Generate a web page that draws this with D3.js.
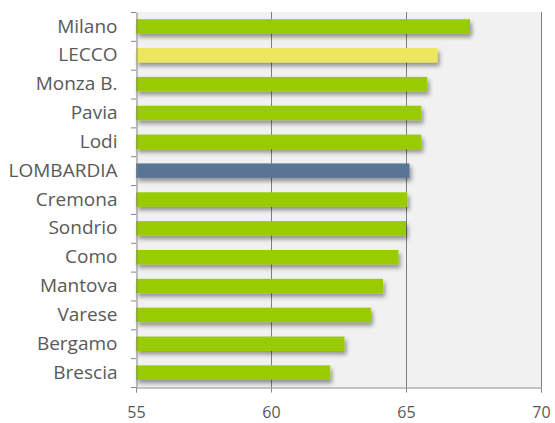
<!DOCTYPE html>
<html>
<head>
<meta charset="utf-8">
<script src="https://cdn.jsdelivr.net/npm/d3@7"></script>
<style>
  body { margin: 0; background: #fff; overflow: hidden; }
  svg { display: block; }
  text { font-family: "Open Sans", "Liberation Sans", sans-serif; fill: #595959; }
</style>
</head>
<body>
<div id="chart"></div>
<script>
const WIDTH = 555;
const HEIGHT = 423;

const provinces = ["Milano", "LECCO", "Monza B.", "Pavia", "Lodi", "LOMBARDIA", "Cremona",
  "Sondrio", "Como", "Mantova", "Varese", "Bergamo", "Brescia"];
const values = [67.37, 66.17, 65.79, 65.57, 65.57, 65.13, 65.05, 65.0, 64.72, 64.15, 63.7, 62.72, 62.19];
const ticks = [55, 60, 65, 70];

const margin = {top: 12, right: 14, bottom: 36, left: 136};

const barColor = name => name === "LECCO" ? "#eee65c" : name === "LOMBARDIA" ? "#587496" : "#99cc00";

const svg = d3.select("#chart")
  .append("svg")
  .attr("width", WIDTH)
  .attr("height", HEIGHT);

const x = d3.scaleLinear()
  .domain([55, 70])
  .range([margin.left, WIDTH - margin.right]);

const y = d3.scaleBand()
  .domain(provinces)
  .range([margin.top, HEIGHT - margin.bottom])
  .paddingInner(0.5)
  .paddingOuter(0.25);

// shadow under the bars
const filter = svg.append("defs").append("filter")
  .attr("id", "shadow")
  .attr("x", "-5%").attr("y", "-50%")
  .attr("width", "115%").attr("height", "250%");
filter.append("feDropShadow")
  .attr("dx", 2).attr("dy", 3.5)
  .attr("stdDeviation", 2.2)
  .attr("flood-color", "#000")
  .attr("flood-opacity", 0.4);

// plot background
svg.append("rect")
  .attr("x", x(55))
  .attr("y", margin.top)
  .attr("width", x(70) - x(55))
  .attr("height", HEIGHT - margin.bottom - margin.top)
  .attr("fill", "#f1f1f1");

// vertical gridlines
svg.append("g")
  .selectAll("line")
  .data(ticks.slice(1))
  .enter().append("line")
  .attr("x1", d => x(d) + 0.5)
  .attr("x2", d => x(d) + 0.5)
  .attr("y1", margin.top)
  .attr("y2", HEIGHT - margin.bottom)
  .attr("stroke", "#7f7f7f")
  .attr("stroke-width", 1);

// bars
svg.append("g")
  .selectAll("rect")
  .data(provinces)
  .enter().append("rect")
  .attr("x", x(55))
  .attr("y", d => y(d))
  .attr("width", (d, i) => x(values[i]) - x(55))
  .attr("height", y.bandwidth())
  .attr("fill", d => barColor(d))
  .attr("filter", "url(#shadow)");

// left axis
const yAxis = d3.axisLeft(y)
  .tickSize(0)
  .tickPadding(19);
const gy = svg.append("g")
  .attr("transform", `translate(${x(55) + 0.5},0)`)
  .call(yAxis);
gy.select(".domain").attr("stroke", "#868686");
gy.selectAll("text").attr("font-size", 19).attr("fill", "#595959")
  .attr("font-family", "'Open Sans', sans-serif");

// category separators on the left axis
const step = y.step();
svg.append("g")
  .selectAll("line")
  .data(d3.range(provinces.length + 1))
  .enter().append("line")
  .attr("x1", x(55) - 5)
  .attr("x2", x(55))
  .attr("y1", i => margin.top + i * step + 0.5)
  .attr("y2", i => margin.top + i * step + 0.5)
  .attr("stroke", "#868686");

// bottom axis
const xAxis = d3.axisBottom(x)
  .tickValues(ticks)
  .tickSize(5)
  .tickPadding(14);
const gx = svg.append("g")
  .attr("transform", `translate(0,${HEIGHT - margin.bottom + 0.5})`)
  .call(xAxis);
gx.select(".domain").attr("stroke", "#868686");
gx.selectAll(".tick line").attr("stroke", "#868686");
gx.selectAll("text").attr("font-size", 16).attr("fill", "#595959")
  .attr("font-family", "'Open Sans', sans-serif");
</script>
</body>
</html>
